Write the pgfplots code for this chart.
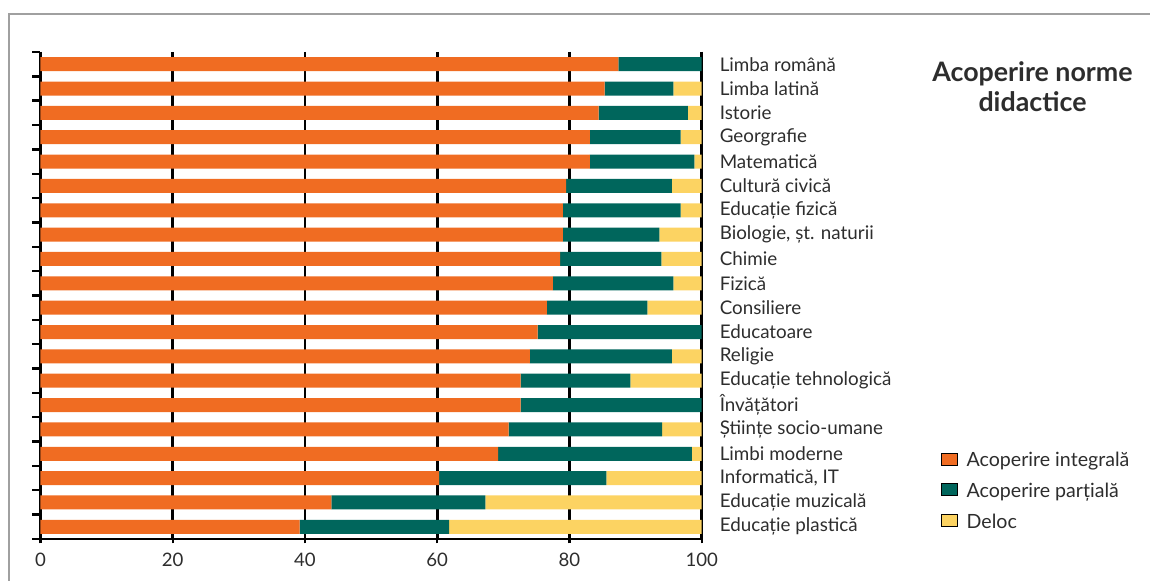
\documentclass[border=0pt]{standalone}
\usepackage{fontspec}
\setmainfont{Lato}
\usepackage{pgfplots}
\usepackage{pgfplotstable}
\pgfplotsset{compat=1.18}
\definecolor{cor}{RGB}{240,108,34}
\definecolor{cte}{RGB}{0,102,92}
\definecolor{cye}{RGB}{252,211,98}
\definecolor{txt}{RGB}{45,45,45}
\definecolor{frm}{RGB}{160,160,160}

\pgfplotstableread{
y integ part deloc
0 87.4 12.6 0.0
1 85.3 10.4 4.3
2 84.4 13.5 2.1
3 83.1 13.7 3.2
4 83.1 15.8 1.1
5 79.5 16.0 4.5
6 79.0 17.8 3.2
7 79.0 14.6 6.4
8 78.6 15.3 6.1
9 77.5 18.2 4.3
10 76.6 15.2 8.2
11 75.2 24.8 0.0
12 74.0 21.5 4.5
13 72.6 16.6 10.8
14 72.6 27.4 0.0
15 70.8 23.2 6.0
16 69.2 29.3 1.5
17 60.3 25.3 14.4
18 44.0 23.3 32.7
19 39.2 22.6 38.2
}\data

\tikzset{sqleg/.style={legend image code/.code={\draw[##1, draw=txt!85, line width=0.5pt] (0pt,-3pt) rectangle (6pt,3pt);}}}

\begin{document}
\begin{tikzpicture}
\useasboundingbox (0,0) rectangle (575pt,290.5pt);
\draw[frm, line width=1.3pt] (4.5pt,-2pt) -- (4.5pt,283.5pt) -- (577pt,283.5pt);
\begin{axis}[
  at={(20.25pt,21pt)}, anchor=south west,
  width=330.6pt, height=243.5pt, scale only axis,
  xbar stacked, bar width=0.575,
  xmin=0, xmax=100, ymin=-0.5, ymax=19.5, y dir=reverse,
  axis x line*=bottom,
  axis line style={line width=1.3pt, black},
  xtick={0,20,40,60,80,100},
  x tick style={line width=1.2pt, black},
  xtick align=center,
  major tick length=4.5pt,
  xmajorgrids,
  major grid style={solid, black, line width=1.3pt},
  ytick={0,...,19},
  yticklabels={Limba română, Limba latină, Istorie, Georgrafie, Matematică, Cultură civică, Educație fizică, {Biologie, șt. naturii}, Chimie, Fizică, Consiliere, Educatoare, Religie, Educație tehnologică, Învățători, Științe socio-umane, Limbi moderne, {Informatică, IT}, Educație muzicală, Educație plastică},
  yticklabel pos=right,
  ytick pos=left,
  major y tick style={draw=none},
  minor ytick={-0.5,0.5,...,19.5},
  minor y tick style={line width=1.2pt, black},
  minor tick length=4pt,
  ytick align=outside,
  yticklabel style={anchor=west, xshift=1pt, text=txt, font=\fontsize{9.4}{11}\selectfont},
  xticklabel style={text=txt, font=\fontsize{9.3}{11}\selectfont, yshift=-1pt},
  /pgf/number format/assume math mode=true,
  legend style={at={(rel axis cs:1.362,0.187)}, anchor=north west, draw=none, fill=none,
    font=\fontsize{9.8}{11}\selectfont, text=txt, row sep=2.6pt, inner sep=0pt,
    /tikz/every odd column/.append style={column sep=2.2pt}},
  legend cell align=left,
]
\addplot[fill=cor, draw=none, sqleg] table[x=integ, y=y] {\data};
\addplot[fill=cte, draw=none, sqleg] table[x=part, y=y] {\data};
\addplot[fill=cye, draw=none, sqleg] table[x=deloc, y=y] {\data};
\legend{Acoperire integrală, Acoperire parțială, Deloc}
\end{axis}
\node[anchor=base, text=txt, font=\bfseries\fontsize{13.4}{15}\selectfont] at (516.25pt,249.6pt) {Acoperire norme};
\node[anchor=base, text=txt, font=\bfseries\fontsize{13.4}{15}\selectfont] at (516.25pt,234.6pt) {didactice};
\end{tikzpicture}
\end{document}
